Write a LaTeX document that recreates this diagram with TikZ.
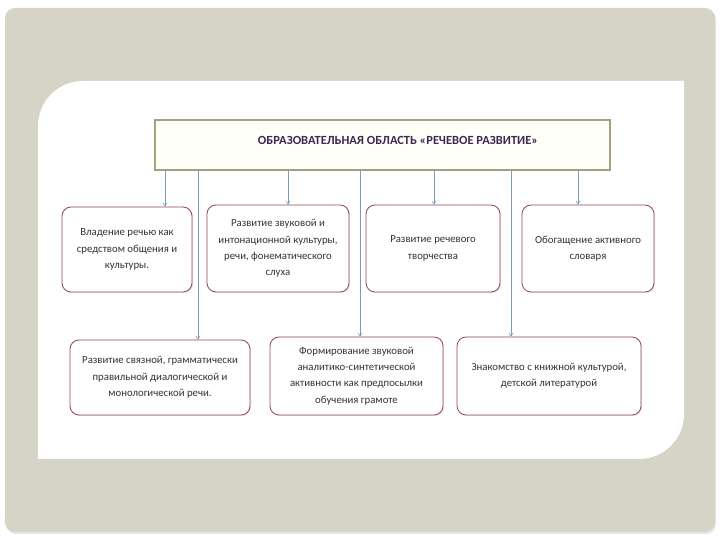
\documentclass[tikz,border=0pt]{standalone}
\usepackage{fontspec}
\setmainfont{Carlito}
\usetikzlibrary{arrows.meta,shadows}
\definecolor{slidegray}{RGB}{214,211,199}
\definecolor{boxred}{RGB}{150,70,85}
\definecolor{titleline}{RGB}{165,160,125}
\definecolor{titlefill}{RGB}{255,255,248}
\definecolor{titletext}{RGB}{60,40,85}
\definecolor{linkblue}{RGB}{125,155,185}
\begin{document}
\begin{tikzpicture}[x=1bp,y=1bp,
  area/.style={draw=boxred,line width=0.8bp,rounded corners=9bp,fill=white,align=center,
    font=\fontsize{10.8}{16.5}\selectfont,text=black!80,inner sep=2bp,
    drop shadow={opacity=0.18,shadow xshift=1.2bp,shadow yshift=-1.2bp}},
  titlebox/.style={draw=titleline,line width=1.8bp,fill=titlefill,inner sep=0pt},
  link/.style={draw=linkblue,line width=0.6bp,-{Straight Barb[length=3bp,width=4bp]}}]
\useasboundingbox (0,0) rectangle (720,540);
\fill[black!10,rounded corners=10bp] (6,6) rectangle (716,530);
\fill[slidegray,rounded corners=10bp] (5,8) rectangle (715,532);
\fill[white] (38,81) -- (38,414) arc[start angle=180,end angle=90,radius=45] -- (684,459)
  -- (684,126) arc[start angle=0,end angle=-90,radius=45] -- cycle;
\node[titlebox,minimum width=455bp,minimum height=50bp] (title) at (382.5,395) {};
\node[font=\bfseries\fontsize{12.5}{14}\selectfont,text=titletext] (titlelabel) at (398,400)
  {ОБРАЗОВАТЕЛЬНАЯ ОБЛАСТЬ «РЕЧЕВОЕ РАЗВИТИЕ»};
\node[area,minimum width=130bp,minimum height=85bp] (speech) at (127,290.5)
  {Владение речью как\\средством общения и\\культуры.};
\node[area,minimum width=142bp,minimum height=87bp] (sound) at (278,291.5)
  {Развитие звуковой и\\интонационной культуры,\\речи, фонематического\\слуха};
\node[area,minimum width=134bp,minimum height=87bp] (creative) at (433,291.5)
  {Развитие речевого\\творчества};
\node[area,minimum width=132bp,minimum height=87bp] (vocab) at (588,291.5)
  {Обогащение активного\\словаря};
\node[area,minimum width=180bp,minimum height=75bp] (dialog) at (160,162.5)
  {Развитие связной, грамматически\\правильной диалогической и\\монологической речи.};
\node[area,minimum width=173bp,minimum height=78bp] (literacy) at (356.5,164)
  {Формирование звуковой\\аналитико-синтетической\\активности как предпосылки\\обучения грамоте};
\node[area,minimum width=184bp,minimum height=78bp] (books) at (549,164)
  {Знакомство с книжной культурой,\\детской литературой};
\draw[link] (title.south -| 165,0) -- (speech.north -| 165,0);
\draw[link] (title.south -| 288,0) -- (sound.north -| 288,0);
\draw[link] (title.south -| 434,0) -- (creative.north -| 434,0);
\draw[link] (title.south -| 578,0) -- (vocab.north -| 578,0);
\draw[link] (title.south -| 198,0) -- (dialog.north -| 198,0);
\draw[link] (title.south -| 360,0) -- (literacy.north -| 360,0);
\draw[link] (title.south -| 511,0) -- (books.north -| 511,0);
\end{tikzpicture}
\end{document}
